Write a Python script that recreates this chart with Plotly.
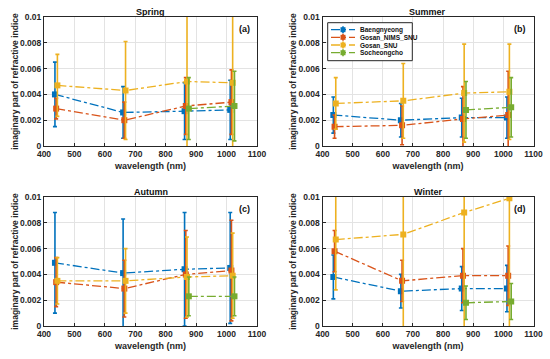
import plotly.graph_objects as go

# ---- data ----
stations = ["Baengnyeong", "Gosan_NIMS_SNU", "Gosan_SNU", "Socheongcho"]
colors = ["#0072BD", "#D95319", "#EDB120", "#77AC30"]

x_baeng = [436, 660, 862, 1012]
x_nims = [440, 664, 866, 1016]
x_snu = [444, 668, 870, 1020]
x_soch = [876, 1026]

seasons = ["Spring", "Summer", "Autumn", "Winter"]
panel_labels = ["(a)", "(b)", "(c)", "(d)"]

spring_baeng = [0.0040, 0.0026, 0.0027, 0.0028]
spring_baeng_err = [0.0025, 0.0020, 0.0022, 0.0023]
spring_nims = [0.0029, 0.0020, 0.0031, 0.0034]
spring_nims_err = [0.0008, 0.0014, 0.0022, 0.0025]
spring_snu = [0.0047, 0.0043, 0.0050, 0.0049]
spring_snu_err = [0.0024, 0.0038, 0.0060, 0.0065]
spring_soch = [0.0029, 0.0031]
spring_soch_err = [0.0024, 0.0027]

summer_baeng = [0.0024, 0.0020, 0.0022, 0.0022]
summer_baeng_err = [0.0014, 0.0013, 0.0015, 0.0016]
summer_nims = [0.0015, 0.0016, 0.0021, 0.0024]
summer_nims_err = [0.0009, 0.0015, 0.0025, 0.0034]
summer_snu = [0.0033, 0.0035, 0.0041, 0.0042]
summer_snu_err = [0.0020, 0.0029, 0.0038, 0.0037]
summer_soch = [0.0028, 0.0030]
summer_soch_err = [0.0022, 0.0023]

autumn_baeng = [0.0049, 0.0041, 0.0044, 0.0045]
autumn_baeng_err = [0.0039, 0.0042, 0.0044, 0.0043]
autumn_nims = [0.0034, 0.0029, 0.0040, 0.0043]
autumn_nims_err = [0.0019, 0.0022, 0.0034, 0.0039]
autumn_snu = [0.0035, 0.0035, 0.0038, 0.0039]
autumn_snu_err = [0.0018, 0.0025, 0.0031, 0.0033]
autumn_soch = [0.0023, 0.0023]
autumn_soch_err = [0.0015, 0.0015]

winter_baeng = [0.0038, 0.0027, 0.0029, 0.0029]
winter_baeng_err = [0.0017, 0.0013, 0.0017, 0.0018]
winter_nims = [0.0058, 0.0035, 0.0039, 0.0039]
winter_nims_err = [0.0016, 0.0016, 0.0021, 0.0023]
winter_snu = [0.0067, 0.0071, 0.0088, 0.0099]
winter_snu_err = [0.0039, 0.0075, 0.0090, 0.0110]
winter_soch = [0.0018, 0.0019]
winter_soch_err = [0.0013, 0.0014]

x_ticks = [400, 500, 600, 700, 800, 900, 1000, 1100]
y_ticks = [0, 0.002, 0.004, 0.006, 0.008, 0.01]
y_tick_text = ["0", "0.002", "0.004", "0.006", "0.008", "0.01"]

season_data = [
    [(x_baeng, spring_baeng, spring_baeng_err), (x_nims, spring_nims, spring_nims_err),
     (x_snu, spring_snu, spring_snu_err), (x_soch, spring_soch, spring_soch_err)],
    [(x_baeng, summer_baeng, summer_baeng_err), (x_nims, summer_nims, summer_nims_err),
     (x_snu, summer_snu, summer_snu_err), (x_soch, summer_soch, summer_soch_err)],
    [(x_baeng, autumn_baeng, autumn_baeng_err), (x_nims, autumn_nims, autumn_nims_err),
     (x_snu, autumn_snu, autumn_snu_err), (x_soch, autumn_soch, autumn_soch_err)],
    [(x_baeng, winter_baeng, winter_baeng_err), (x_nims, winter_nims, winter_nims_err),
     (x_snu, winter_snu, winter_snu_err), (x_soch, winter_soch, winter_soch_err)],
]

# ---- layout geometry (pixels -> paper fractions) ----
W, H = 550, 359
def px(x):
    return x / W
def py(y):
    return (H - y) / H

xdoms = [(px(44), px(257)), (px(322.5), px(533.5))]
ydoms = [(py(146), py(17)), (py(326), py(197))]
panel_pos = [(0, 0), (1, 0), (0, 1), (1, 1)]

FONT = "Liberation Sans, Arial, sans-serif"
DARK = "#262626"
fig = go.Figure()

for i, season in enumerate(seasons):
    ax = "" if i == 0 else str(i + 1)
    for j, (xs, ys, es) in enumerate(season_data[i]):
        fig.add_trace(go.Scatter(
            x=xs, y=ys, mode="lines+markers", name=stations[j],
            xaxis="x" + ax, yaxis="y" + ax, showlegend=False,
            line=dict(color=colors[j], width=1.3, dash="dashdot"),
            marker=dict(symbol="square", size=6, color=colors[j]),
            error_y=dict(type="data", array=es, visible=True, color=colors[j],
                         thickness=1.6, width=2),
        ))
    cx, cy = panel_pos[i]
    axis_common = dict(showline=True, mirror=True, linecolor=DARK, linewidth=1,
                       ticks="inside", ticklen=3, tickcolor=DARK,
                       showgrid=True, gridcolor="#e3e3e3", gridwidth=1, zeroline=False,
                       tickfont=dict(family=FONT, size=8.5, color=DARK, weight="bold"))
    fig.layout["xaxis" + ax] = dict(
        domain=list(xdoms[cx]), anchor="y" + ax, range=[400, 1100],
        tickvals=x_ticks,
        title=dict(text="wavelength (nm)", standoff=4,
                   font=dict(family=FONT, size=9, color=DARK, weight="bold")),
        **axis_common)
    fig.layout["yaxis" + ax] = dict(
        domain=list(ydoms[cy]), anchor="x" + ax, range=[0, 0.01],
        tickvals=y_ticks, ticktext=y_tick_text,
        title=dict(text="imaginary part of refractive indice", standoff=0,
                   font=dict(family=FONT, size=8.5, color=DARK, weight="bold")),
        **axis_common)
    fig.add_annotation(text="<b>" + season + "</b>", xref="x" + ax + " domain",
                       yref="y" + ax + " domain", x=0.5, y=1.0, yanchor="bottom",
                       showarrow=False, yshift=-2,
                       font=dict(family=FONT, size=9, color="#111111"))
    fig.add_annotation(text="<b>" + panel_labels[i] + "</b>", xref="x" + ax + " domain",
                       yref="y" + ax + " domain", x=0.975, y=0.96, xanchor="right",
                       yanchor="top", showarrow=False,
                       font=dict(family=FONT, size=9, color="#111111"))

# ---- legend (drawn as a MATLAB-style box inside panel (b)) ----
leg_left, leg_right, leg_top, leg_bottom = 327.7, 412.3, 22.7, 60.7
row_y = [29.7, 37.3, 45.0, 52.7]
fig.add_shape(type="rect", xref="paper", yref="paper",
              x0=px(leg_left), x1=px(leg_right), y0=py(leg_bottom), y1=py(leg_top),
              line=dict(color=DARK, width=1), fillcolor="white", layer="above")
for j, name in enumerate(stations):
    yc = row_y[j]
    fig.add_shape(type="line", xref="paper", yref="paper",
                  x0=px(331), x1=px(355), y0=py(yc), y1=py(yc), layer="above",
                  line=dict(color=colors[j], width=1.3, dash="dashdot"))
    fig.add_shape(type="line", xref="paper", yref="paper",
                  x0=px(343), x1=px(343), y0=py(yc - 3.5), y1=py(yc + 3.5), layer="above",
                  line=dict(color=colors[j], width=1.6))
    fig.add_shape(type="rect", xref="paper", yref="paper",
                  x0=px(340.5), x1=px(345.5), y0=py(yc + 2.5), y1=py(yc - 2.5), layer="above",
                  line=dict(color=colors[j], width=0), fillcolor=colors[j])
    fig.add_annotation(text="<b>" + name + "</b>", xref="paper", yref="paper",
                       x=px(358), y=py(yc), xanchor="left", yanchor="middle",
                       showarrow=False,
                       font=dict(family=FONT, size=6.5, color="#111111"))

fig.update_layout(
    width=W, height=H, margin=dict(l=0, r=0, t=0, b=0, autoexpand=False),
    paper_bgcolor="white", plot_bgcolor="white",
    showlegend=False,
)

fig.write_html("out.html", config={"displayModeBar": False},
               post_script="document.body.style.margin='0px';")
